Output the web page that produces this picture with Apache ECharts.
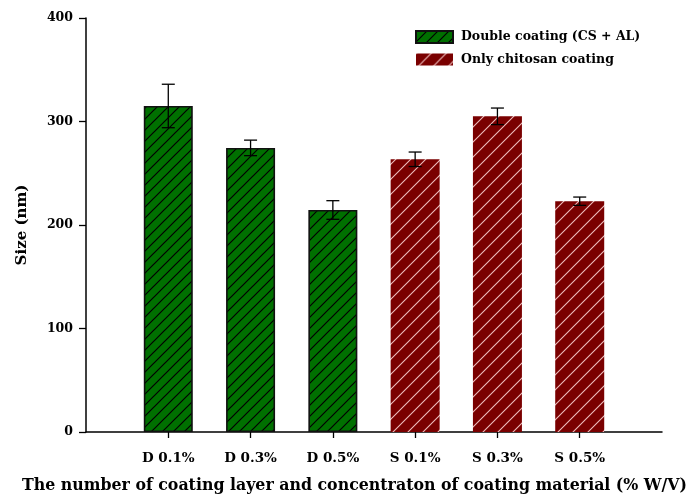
<!DOCTYPE html>
<html>
<head>
<meta charset="utf-8">
<script src="https://cdn.jsdelivr.net/npm/echarts@6/dist/echarts.min.js"></script>
<style>
  html, body { margin: 0; padding: 0; background: #fff; }
  #chart { width: 690px; height: 501px; }
</style>
</head>
<body>
<div id="chart"></div>
<script>
// Particle size by coating type and concentration
const categories = ['', 'D 0.1%', 'D 0.3%', 'D 0.5%', 'S 0.1%', 'S 0.3%', 'S 0.5%', ''];
const doubleCoating = ['-', 315, 274.5, 214.5, '-', '-', '-', '-'];
const doubleErr     = ['-', 21, 7.5, 9, '-', '-', '-', '-'];
const chitosanOnly  = ['-', '-', '-', '-', 263.5, 305, 223, '-'];
const chitosanErr   = ['-', '-', '-', '-', 7, 8, 4, '-'];
const yTicks = [0, 100, 200, 300, 400];

const FONT = '"DejaVu Serif", "Liberation Serif", serif';

function errData(vals, errs) {
  const out = [];
  vals.forEach((v, i) => {
    if (v !== '-') out.push([i, v - errs[i], v + errs[i]]);
  });
  return out;
}

function renderErr(params, api) {
  const x = api.value(0);
  const lo = api.coord([x, api.value(1)]);
  const hi = api.coord([x, api.value(2)]);
  const half = 6.5;
  const style = { stroke: '#000', lineWidth: 1.3 };
  return {
    type: 'group',
    children: [
      { type: 'line', shape: { x1: hi[0], y1: hi[1], x2: lo[0], y2: lo[1] }, style },
      { type: 'line', shape: { x1: hi[0] - half, y1: hi[1], x2: hi[0] + half, y2: hi[1] }, style },
      { type: 'line', shape: { x1: lo[0] - half, y1: lo[1], x2: lo[0] + half, y2: lo[1] }, style }
    ]
  };
}

// Tile with a "/" diagonal line, used as a repeating fill pattern
function hatchTile(size, bg, fg, lw) {
  const c = document.createElement('canvas');
  c.width = c.height = size;
  const g = c.getContext('2d');
  g.fillStyle = bg;
  g.fillRect(0, 0, size, size);
  g.strokeStyle = fg;
  g.lineWidth = lw;
  g.beginPath();
  g.moveTo(-2, size + 2); g.lineTo(size + 2, -2);
  g.moveTo(-2, 2); g.lineTo(2, -2);
  g.moveTo(size - 2, size + 2); g.lineTo(size + 2, size - 2);
  g.stroke();
  return { image: c, repeat: 'repeat' };
}

const greenFill = hatchTile(11, '#007000', '#000000', 1.2);
const redFill = hatchTile(15, '#7a0000', '#eebcbc', 1.1);

const chart = echarts.init(document.getElementById('chart'), null, { renderer: 'canvas' });
chart.setOption({
  animation: false,
  grid: { left: 86, right: 28, top: 18, bottom: 69 },
  legend: {
    orient: 'vertical',
    left: 410, top: 25,
    icon: 'rect',
    itemWidth: 37, itemHeight: 12, itemGap: 9,
    textStyle: { fontFamily: FONT, fontWeight: 'bold', fontSize: 12.5, color: '#000', padding: [0, 0, 0, 3] },
    data: ['Double coating (CS + AL)', 'Only chitosan coating']
  },
  xAxis: {
    type: 'category',
    data: categories,
    boundaryGap: false,
    axisLine: { lineStyle: { color: '#000', width: 1.5 } },
    axisTick: { length: 6, lineStyle: { color: '#000', width: 1.3 },
      interval: (i) => i > 0 && i < categories.length - 1 },
    axisLabel: { margin: 19, color: '#000', fontFamily: FONT, fontWeight: 'bold', fontSize: 13.5,
      interval: (i) => i > 0 && i < categories.length - 1 },
    splitLine: { show: false }
  },
  yAxis: {
    type: 'value',
    min: 0, max: 400, interval: 100,
    name: 'Size (nm)',
    nameLocation: 'middle',
    nameGap: 56,
    nameTextStyle: { fontFamily: FONT, fontWeight: 'bold', fontSize: 15, color: '#000' },
    axisLine: { show: true, lineStyle: { color: '#000', width: 1.5 } },
    axisTick: { show: true, length: 7, lineStyle: { color: '#000', width: 1.3 } },
    axisLabel: { margin: 13, color: '#000', fontFamily: FONT, fontWeight: 'bold', fontSize: 12.5,
      formatter: (v) => yTicks.includes(v) ? String(v) : '' },
    splitLine: { show: false }
  },
  graphic: [{
    type: 'text',
    left: 22,
    top: 478,
    style: {
      text: 'The number of coating layer and concentraton of coating material (% W/V)',
      font: 'bold 15.8px ' + FONT,
      fill: '#000'
    }
  }],
  series: [
    {
      name: 'Double coating (CS + AL)',
      type: 'bar',
      data: doubleCoating,
      barWidth: 49,
      barGap: '-100%',
      itemStyle: { color: greenFill, borderColor: '#111', borderWidth: 1.6 }
    },
    {
      name: 'Only chitosan coating',
      type: 'bar',
      data: chitosanOnly,
      barWidth: 49,
      itemStyle: { color: redFill }
    },
    {
      type: 'custom',
      renderItem: renderErr,
      data: errData(doubleCoating, doubleErr),
      encode: { x: 0, y: [1, 2] },
      z: 10
    },
    {
      type: 'custom',
      renderItem: renderErr,
      data: errData(chitosanOnly, chitosanErr),
      encode: { x: 0, y: [1, 2] },
      z: 10
    }
  ]
});
</script>
</body>
</html>
